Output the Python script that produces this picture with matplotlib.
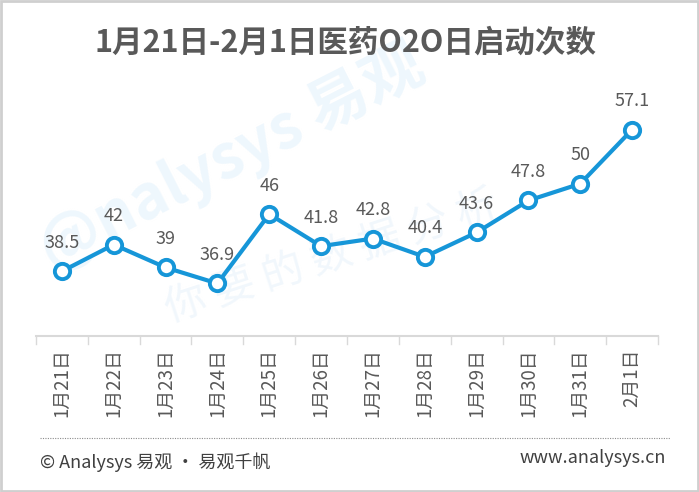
import matplotlib
matplotlib.use("Agg")
import matplotlib.pyplot as plt
from matplotlib.patches import Rectangle
from matplotlib.lines import Line2D

plt.rcParams['font.family'] = ['Noto Sans CJK SC', 'DejaVu Sans']

categories = ["1月21日", "1月22日", "1月23日", "1月24日", "1月25日", "1月26日",
              "1月27日", "1月28日", "1月29日", "1月30日", "1月31日", "2月1日"]
values = [38.5, 42, 39, 36.9, 46, 41.8, 42.8, 40.4, 43.6, 47.8, 50, 57.1]
value_labels = ["38.5", "42", "39", "36.9", "46", "41.8", "42.8", "40.4", "43.6", "47.8", "50", "57.1"]
title = "1月21日-2月1日医药O2O日启动次数"

W, H = 699, 492
fig = plt.figure(figsize=(W / 100, H / 100), dpi=100)
fig.patch.set_facecolor("white")

# border
fig.add_artist(Rectangle((0.002, 0.003), 0.996, 0.994, transform=fig.transFigure,
                         fill=False, edgecolor="#cfcfcf", linewidth=2))

# watermark (behind everything)
bg = fig.add_axes([0, 0, 1, 1], zorder=0)
bg.axis("off")
bg.set_xlim(0, W)
bg.set_ylim(H, 0)
bg.text(52, 270, "@nalysys 易观", fontsize=44, fontweight="bold",
        color="#eef7fd", rotation=27, rotation_mode="anchor",
        ha="left", va="baseline")
bg.text(170, 322, "你 要 的 数 据 分 析", fontsize=30,
        color="#f1f7fc", rotation=18, rotation_mode="anchor",
        ha="left", va="baseline")

ax = fig.add_axes([36 / W, 156 / H, 622 / W, 236 / H], zorder=2)
ax.set_facecolor("none")
x = list(range(len(categories)))
ax.plot(x, values, color="#1696d8", linewidth=3, marker="o", markersize=11,
        markerfacecolor="white", markeredgecolor="#1696d8", markeredgewidth=2.8,
        zorder=3, clip_on=False)
for xi, v, lab in zip(x, values, value_labels):
    ax.annotate(lab, (xi, v), xytext=(0, 14), textcoords="offset points",
                ha="center", va="bottom", fontsize=13, color="#595959")

ax.set_xlim(-0.5, len(categories) - 0.5)
ax.set_ylim(30, 61)
for s in ["top", "right", "left"]:
    ax.spines[s].set_visible(False)
ax.spines["bottom"].set_color("#d9d9d9")
ax.spines["bottom"].set_linewidth(1.5)
ax.set_yticks([])
ax.set_xticks(x)
ax.set_xticklabels(categories, rotation=90, fontsize=13.5, color="#595959")
ax.tick_params(axis="x", length=0, pad=9)
# boundary ticks
for b in [i - 0.5 for i in range(len(categories) + 1)]:
    ax.plot([b, b], [0, -0.035], transform=ax.get_xaxis_transform(),
            color="#d9d9d9", linewidth=1, clip_on=False)

fig.text(345 / W, 1 - 43 / H, title, fontsize=22, fontweight="bold",
         color="#595959", ha="center", va="center", zorder=5)

fig.add_artist(Line2D([40 / W, 670 / W], [1 - 438 / H, 1 - 438 / H],
                      transform=fig.transFigure, color="#8c8c8c",
                      linestyle=(0, (1, 1.2)), linewidth=0.8))
fig.text(40 / W, 1 - 462 / H, "© Analysys 易观 · 易观千帆", fontsize=13,
         color="#404040", ha="left", va="center", zorder=5)
fig.text(666 / W, 1 - 458 / H, "www.analysys.cn", fontsize=13,
         color="#404040", ha="right", va="center", zorder=5)

fig.savefig("out.png", dpi=100)
